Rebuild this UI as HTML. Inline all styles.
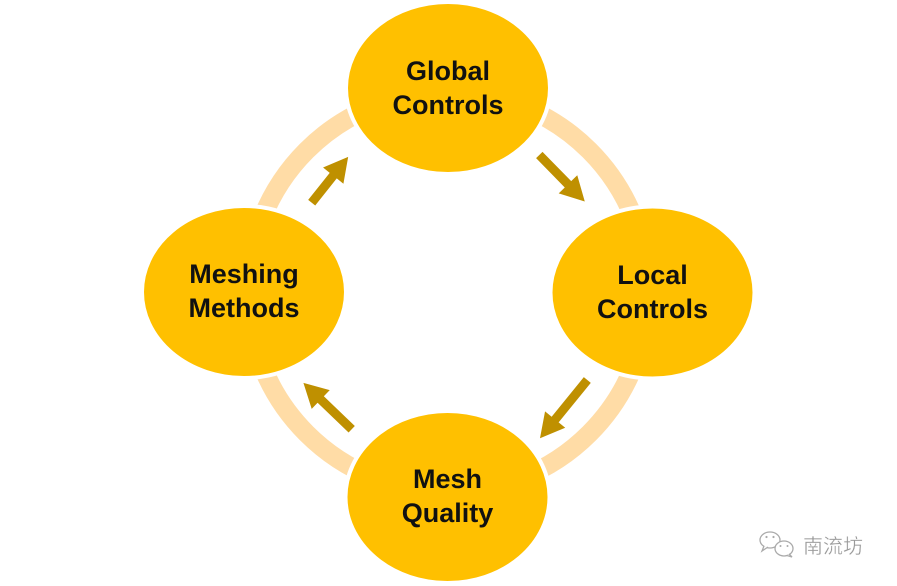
<!DOCTYPE html>
<html><head><meta charset="utf-8"><style>
html,body{margin:0;padding:0;background:#fff;}
svg{display:block;}
</style></head><body>
<svg width="897" height="586" viewBox="0 0 897 586" xmlns="http://www.w3.org/2000/svg">
<rect width="897" height="586" fill="#fff"/>
<circle cx="448" cy="292" r="200" fill="none" stroke="#FFDCA6" stroke-width="19"/>
<g fill="#FFC000" stroke="#fff" stroke-width="4">
<ellipse cx="448" cy="88" rx="102" ry="86"/>
<ellipse cx="652.5" cy="292.5" rx="102" ry="86"/>
<ellipse cx="244" cy="292" rx="102" ry="86"/>
<ellipse cx="447.5" cy="497" rx="102" ry="86"/>
</g>
<g fill="#BF9000">
<g transform="translate(311.7,202.7) rotate(-51.5)"><polygon points="0,-4.5 34.6,-4.5 34.6,-13 58.6,0 34.6,13 34.6,4.5 0,4.5"/></g>
<g transform="translate(539.3,155) rotate(45.6)"><polygon points="0,-4.5 41,-4.5 41,-13 65,0 41,13 41,4.5 0,4.5"/></g>
<g transform="translate(587.3,380) rotate(129.1)"><polygon points="0,-4.5 51,-4.5 51,-13 75,0 51,13 51,4.5 0,4.5"/></g>
<g transform="translate(351.7,429.3) rotate(-136.1)"><polygon points="0,-4.5 43,-4.5 43,-13 67,0 43,13 43,4.5 0,4.5"/></g>
</g>
<g font-family="'Liberation Sans', sans-serif" font-weight="bold" font-size="27" fill="#111" text-anchor="middle">
<text x="448" y="80">Global</text>
<text x="448" y="114">Controls</text>
<text x="652.5" y="284">Local</text>
<text x="652.5" y="318">Controls</text>
<text x="244" y="283">Meshing</text>
<text x="244" y="317">Methods</text>
<text x="447.5" y="488">Mesh</text>
<text x="447.5" y="522">Quality</text>
</g>
<g fill="#fff" stroke="#aaa" stroke-width="1.3">
<ellipse cx="770" cy="540" rx="10" ry="8"/>
<path d="M764 546 L762 551 L768 547" />
<ellipse cx="784" cy="548.5" rx="9" ry="7.5"/>
<path d="M789 554 L792 557 L787 555.5"/>
</g>
<g fill="#aaa">
<circle cx="766.5" cy="537" r="1.1"/><circle cx="773.5" cy="537" r="1.1"/>
<circle cx="780.5" cy="546" r="1"/><circle cx="787.5" cy="546" r="1"/>
</g>
<text x="803" y="553" font-family="'Liberation Sans','Noto Sans CJK SC',sans-serif" font-size="20" fill="#9a9a9a" stroke="#fff" stroke-width="0.3">南流坊</text>
</svg>
</body></html>
